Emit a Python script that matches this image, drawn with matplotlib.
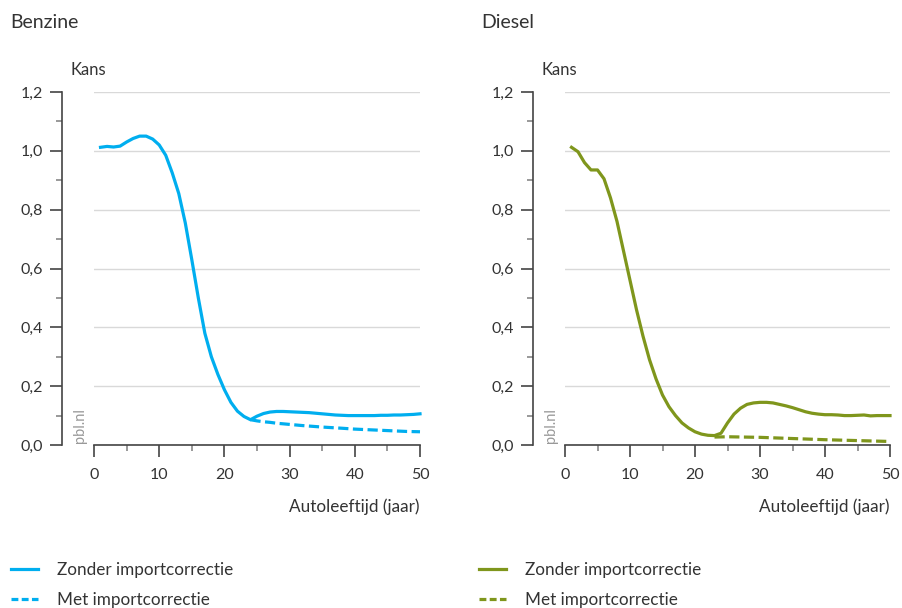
import matplotlib
matplotlib.use("Agg")
import matplotlib.pyplot as plt
from matplotlib.lines import Line2D
from matplotlib.ticker import MultipleLocator, FuncFormatter

plt.rcParams['font.family'] = ['Lato', 'DejaVu Sans']

# leeftijden (jaar)
age = list(range(1, 51))

# kans benzine, zonder importcorrectie
benzine_zonder = [1.012, 1.015, 1.013, 1.016, 1.030, 1.042, 1.050, 1.050, 1.040, 1.020,
                  0.985, 0.925, 0.855, 0.755, 0.630, 0.500, 0.380, 0.300, 0.240, 0.188,
                  0.145, 0.115, 0.097, 0.086, 0.098, 0.107, 0.112, 0.114, 0.114, 0.113,
                  0.112, 0.111, 0.110, 0.108, 0.106, 0.104, 0.102, 0.101, 0.100, 0.100,
                  0.100, 0.100, 0.100, 0.101, 0.101, 0.102, 0.102, 0.103, 0.104, 0.106]

# kans benzine, met importcorrectie (vanaf 24 jaar)
age_benzine_met = [24, 25, 26, 27, 28, 30, 32, 35, 38, 40, 42, 45, 48, 50]
benzine_met = [0.086, 0.082, 0.079, 0.077, 0.074, 0.070, 0.066, 0.061, 0.057, 0.054,
               0.052, 0.049, 0.046, 0.045]

# kans diesel, zonder importcorrectie
diesel_zonder = [1.012, 0.997, 0.960, 0.935, 0.935, 0.905, 0.840, 0.760, 0.660, 0.560,
                 0.460, 0.370, 0.290, 0.225, 0.170, 0.130, 0.100, 0.075, 0.058, 0.045,
                 0.037, 0.033, 0.032, 0.040, 0.075, 0.105, 0.125, 0.138, 0.143, 0.145,
                 0.145, 0.143, 0.138, 0.133, 0.127, 0.120, 0.113, 0.108, 0.105, 0.103,
                 0.103, 0.102, 0.100, 0.100, 0.101, 0.102, 0.099, 0.100, 0.100, 0.100]

# kans diesel, met importcorrectie (vanaf 23 jaar)
age_diesel_met = [23, 25, 30, 35, 40, 45, 50]
diesel_met = [0.027, 0.028, 0.026, 0.022, 0.018, 0.015, 0.012]

labels = ['Zonder importcorrectie', 'Met importcorrectie']

BLUE = '#00aeef'
OLIVE = '#7f961c'
TEXT = '#333333'

fig = plt.figure(figsize=(9.02, 6.08), dpi=100)
ax_b = fig.add_axes([94 / 902, 163 / 608, 326 / 902, 353 / 608])
ax_d = fig.add_axes([565 / 902, 163 / 608, 325 / 902, 353 / 608])


def style_axis(ax):
    ax.set_xlim(0, 50)
    ax.set_ylim(0, 1.2)
    for side in ['top', 'right']:
        ax.spines[side].set_visible(False)
    ax.spines['left'].set_position(('outward', 23))
    ax.spines['left'].set_color('#444444')
    ax.spines['bottom'].set_color('#444444')
    ax.spines['left'].set_linewidth(1.2)
    ax.spines['bottom'].set_linewidth(1.2)
    ax.xaxis.set_major_locator(MultipleLocator(10))
    ax.xaxis.set_minor_locator(MultipleLocator(5))
    ax.yaxis.set_major_locator(MultipleLocator(0.2))
    ax.yaxis.set_minor_locator(MultipleLocator(0.1))
    ax.yaxis.set_major_formatter(FuncFormatter(lambda v, p: f"{v:.1f}".replace('.', ',')))
    ax.tick_params(axis='both', which='major', length=8.5, width=1.2, color='#444444',
                   labelsize=11.5, labelcolor=TEXT)
    ax.tick_params(axis='both', which='minor', length=4, width=1.2, color='#888888')
    ax.tick_params(axis='x', which='major', pad=8)
    ax.tick_params(axis='y', which='major', pad=5)
    ax.grid(axis='y', which='major', color='#d9d9d9', linewidth=1)
    ax.set_axisbelow(True)
    ax.text(-0.072, 1.04, 'Kans', transform=ax.transAxes, fontsize=12, color=TEXT,
            ha='left', va='bottom')
    ax.text(1.0, -0.15, 'Autoleeftijd (jaar)', transform=ax.transAxes, fontsize=12.3,
            color=TEXT, ha='right', va='top')
    ax.text(-0.042, 0.005, 'pbl.nl', transform=ax.transAxes, rotation=90, fontsize=10.5,
            color='#999999', ha='center', va='bottom')


for ax in (ax_b, ax_d):
    style_axis(ax)

dash = (0, (3.2, 1.4))
ax_b.plot(age, benzine_zonder, color=BLUE, lw=2.3, clip_on=False)
ax_b.plot(age_benzine_met, benzine_met, color=BLUE, lw=2.3, ls=dash, clip_on=False)
ax_d.plot(age, diesel_zonder, color=OLIVE, lw=2.3, clip_on=False)
ax_d.plot(age_diesel_met, diesel_met, color=OLIVE, lw=2.3, ls=dash, clip_on=False)

fig.text(10 / 902, 1 - 22 / 608, 'Benzine', fontsize=14, color=TEXT, va='center')
fig.text(481 / 902, 1 - 22 / 608, 'Diesel', fontsize=14, color=TEXT, va='center')

# legenda per brandstof, onder de grafiek
for ax, color, x0 in ((ax_b, BLUE, 4 / 902), (ax_d, OLIVE, 472 / 902)):
    handles = [Line2D([], [], color=color, lw=2.3),
               Line2D([], [], color=color, lw=2.3, ls=(0, (2.15, 1.05)))]
    ax.legend(handles, labels, loc='upper left', bbox_to_anchor=(x0, 1 - 555 / 608),
              bbox_transform=fig.transFigure, frameon=False, fontsize=12.3,
              handlelength=1.6, handletextpad=1.1, labelspacing=0.85,
              labelcolor=TEXT, borderaxespad=0)

fig.savefig('out.png', dpi=100)
